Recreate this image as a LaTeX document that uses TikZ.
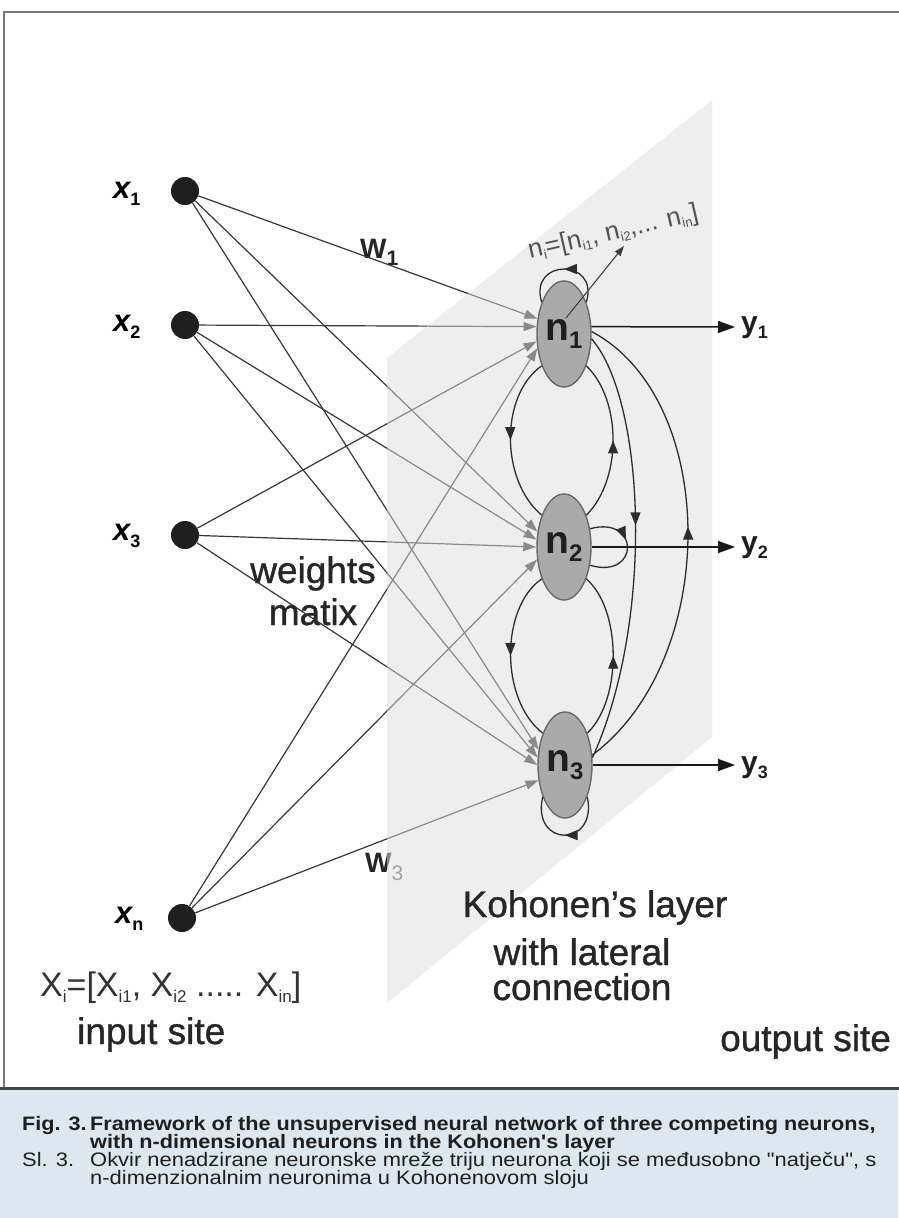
\documentclass[tikz,border=0pt]{standalone}
\usepackage{fontspec}
\usepackage{graphicx}
\setmainfont{Liberation Sans}
\newfontfamily\capfont[FakeStretch=1.11]{Liberation Sans}
\newfontfamily\capregfont[FakeStretch=1.125]{Liberation Sans}
\newfontfamily\thickfont[FakeBold=1]{Liberation Sans}
\usetikzlibrary{arrows.meta,decorations.markings,shapes.geometric}
\definecolor{planefill}{RGB}{222,222,222}
\definecolor{capbg}{RGB}{221,231,239}
\definecolor{linedark}{RGB}{55,55,55}
\definecolor{neuronfill}{RGB}{170,170,170}
\definecolor{neurondraw}{RGB}{105,105,105}
\definecolor{latcol}{RGB}{45,45,45}
\definecolor{framegray}{RGB}{120,120,120}
\definecolor{framedark}{RGB}{70,70,70}
\newcommand\sbx[3]{\raisebox{#3}{\fontsize{#2}{#2}\selectfont #1}}
\begin{document}
\begin{tikzpicture}[x=1pt,y=-1pt,
  inp/.style={circle, fill=black!88, minimum size=28pt, inner sep=0pt},
  xlab/.style={anchor=base west, inner sep=0pt, font=\fontsize{31}{31}\selectfont\bfseries\itshape},
  wlab/.style={anchor=base west, inner sep=0pt, font=\fontsize{28}{28}\selectfont\bfseries, text=black!85},
  big/.style={anchor=base, inner sep=0pt, font=\thickfont\fontsize{37}{40}\selectfont, text=black!85},
  neuron/.style={ellipse, draw=neurondraw, fill=neuronfill, line width=1.4pt, minimum width=54pt, minimum height=106pt, inner sep=0pt, font=\fontsize{39}{39}\selectfont\bfseries, text=black!88},
  inl/.style={draw=linedark, line width=1.2pt, -{Triangle[length=13pt,width=9pt]}},
  lat/.style={draw=latcol, line width=1.3pt},
  midarrow/.style={postaction={decorate}, decoration={markings, mark=at position #1 with {\arrow{Triangle[length=13pt,width=10pt]}}}},
  midarrow/.default=0.5,
  outarrow/.style={draw=black!90, line width=1.5pt, -{Triangle[length=17pt,width=12pt]}},
  ylab/.style={anchor=base west, inner sep=0pt, font=\fontsize{30}{30}\selectfont\bfseries, text=black!88},
  captext/.style={anchor=base west, inner sep=0pt, font=\capfont\fontsize{19.5}{21}\selectfont\bfseries, text=black!88},
  capreg/.style={anchor=base west, inner sep=0pt, font=\capregfont\fontsize{19.5}{21}\selectfont, text=black!88}]
\useasboundingbox (0,0) rectangle (898,1218);
\fill[white] (0,0) rectangle (898,1218);
% caption background and frame
\fill[capbg] (0,1088) rectangle (898,1218);
\draw[framegray, line width=2.5pt] (4,1088) -- (4,12) -- (900,12);
\draw[framedark, line width=3pt] (0,1088) -- (900,1088);

% input neurons
\node[inp] (x1) at (185,191) {};
\node[inp] (x2) at (185,325) {};
\node[inp] (x3) at (185,535) {};
\node[inp] (xn) at (182,918) {};
\node[xlab] (lx1) at (113,198) {x\sbx{\upshape 1}{18}{-7pt}};
\node[xlab] (lx2) at (113,331) {x\sbx{\upshape 2}{18}{-7pt}};
\node[xlab] (lx3) at (113,540) {x\sbx{\upshape 3}{18}{-7pt}};
\node[xlab] (lxn) at (115,923) {x\sbx{\upshape n}{18}{-7pt}};

% labels under the plane
\node[wlab] (w1) at (360,258) {W\sbx{1}{21}{-7pt}};
\node[wlab] (w3) at (365,872) {W\sbx{\mdseries\color{black!60}3}{21}{-8pt}};
\node[big] (wt1) at (313,583) {weights};
\node[big] (wt2) at (313,625) {matix};

% neurons (positions only, drawn later)
\path (564,334) coordinate (c1) (564,547) coordinate (c2) (565,765) coordinate (c3);
\node[neuron, draw=none, fill=none] (n1) at (c1) {};
\node[neuron, draw=none, fill=none] (n2) at (c2) {};
\node[neuron, draw=none, fill=none] (n3) at (c3) {};

% weight connections
\draw[inl] (x1) -- (n1.150);
\draw[inl] (x1) -- (n2.150);
\draw[inl] (x1) -- (n3.150);
\draw[inl] (x2) -- (n1.165);
\draw[inl] (x2) -- (n2.165);
\draw[inl] (x2) -- (n3.165);
\draw[inl] (x3) -- (n1.195);
\draw[inl] (x3) -- (n2.180);
\draw[inl] (x3) -- (n3.180);
\draw[inl] (xn) -- (n1.208);
\draw[inl] (xn) -- (n2.205);
\draw[inl] (xn) -- (n3.210);

% Kohonen plane (semi-transparent)
\fill[planefill, fill opacity=0.5] (387,358) -- (712,100) -- (712,737) -- (387,1003) -- cycle;

% Kohonen neurons
\node[neuron] (m1) at (c1) {n\sbx{1}{24}{-8pt}};
\node[neuron] (m2) at (c2) {n\sbx{2}{24}{-8pt}};
\node[neuron] (m3) at (c3) {n\sbx{3}{24}{-8pt}};

% lateral connections
\draw[lat, midarrow] (m1.55) .. controls (600,258) and (528,258) .. (m1.125);
\draw[lat, midarrow=0.42] (m2.35) .. controls (640,515) and (640,580) .. (m2.-35);
\draw[lat, midarrow] (m3.-55) .. controls (598,848) and (531,848) .. (m3.-125);
\draw[lat, midarrow] (m1.235) .. controls (500,395) and (500,480) .. (m2.125);
\draw[lat, midarrow] (m2.55) .. controls (622,480) and (622,400) .. (m1.-55);
\draw[lat, midarrow] (m2.235) .. controls (500,608) and (500,700) .. (m3.125);
\draw[lat, midarrow] (m3.55) .. controls (622,700) and (622,610) .. (m2.-55);
\draw[lat, midarrow=0.45] (m1.-10) .. controls (645,400) and (655,620) .. (m3.15);
\draw[lat, midarrow=0.53] (m3.20) .. controls (720,660) and (720,400) .. (m1.5);

% vector of n1
\coordinate (nist) at (566,318);
\coordinate (nitip) at (624,246);
\draw[draw=black!75, line width=1.1pt, -{Triangle[length=10pt,width=7pt]}] (nist) -- (nitip);
\node[anchor=base west, inner sep=0pt, rotate=13, text=black!68, font=\fontsize{26}{26}\selectfont] (nilab) at (530,259)
  {n\sbx{i}{13}{-4pt}=[n\sbx{i1}{13}{-4pt}, n\sbx{i2}{13}{-4pt},... n\sbx{in}{13}{-4pt}]};

% outputs
\coordinate (y1e) at (735,327);
\coordinate (y2e) at (735,547);
\coordinate (y3e) at (735,765);
\draw[outarrow] (m1.15) -- (y1e);
\draw[outarrow] (m2.east) -- (y2e);
\draw[outarrow] (m3.east) -- (y3e);
\node[ylab] (ly1) at (741,332) {y\sbx{1}{18}{-6pt}};
\node[ylab] (ly2) at (741,552) {y\sbx{2}{18}{-6pt}};
\node[ylab] (ly3) at (741,772) {y\sbx{3}{18}{-6pt}};

% texts
\node[big] (k1) at (595,917) {Kohonen’s layer};
\node[big] (k2) at (582,965) {with lateral};
\node[big] (k3) at (582,1000) {connection};
\node[anchor=base west, inner sep=0pt, text=black!80, font=\fontsize{34}{34}\selectfont] (xi) at (40,996)
  {X\sbx{i}{17}{-6pt}=[X\sbx{i1}{17}{-6pt}, X\sbx{i2}{17}{-6pt} ..... X\sbx{in}{17}{-6pt}]};
\node[big, anchor=base west] (ins) at (77,1044) {input site};
\node[big, anchor=base west] (outs) at (720,1051) {output site};

% caption
\node[captext] (c1a) at (22,1130) {Fig. 3.};
\node[captext] (c1b) at (90,1130) {Framework of the unsupervised neural network of three competing neurons,};
\node[captext] (c2a) at (90,1148) {with n-dimensional neurons in the Kohonen's layer};
\node[capreg] (c3a) at (22,1166) {Sl. 3.};
\node[capreg] (c3b) at (90,1166) {Okvir nenadzirane neuronske mreže triju neurona koji se međusobno "natječu", s};
\node[capreg] (c4a) at (90,1184) {n-dimenzionalnim neuronima u Kohonenovom sloju};
\end{tikzpicture}
\end{document}
